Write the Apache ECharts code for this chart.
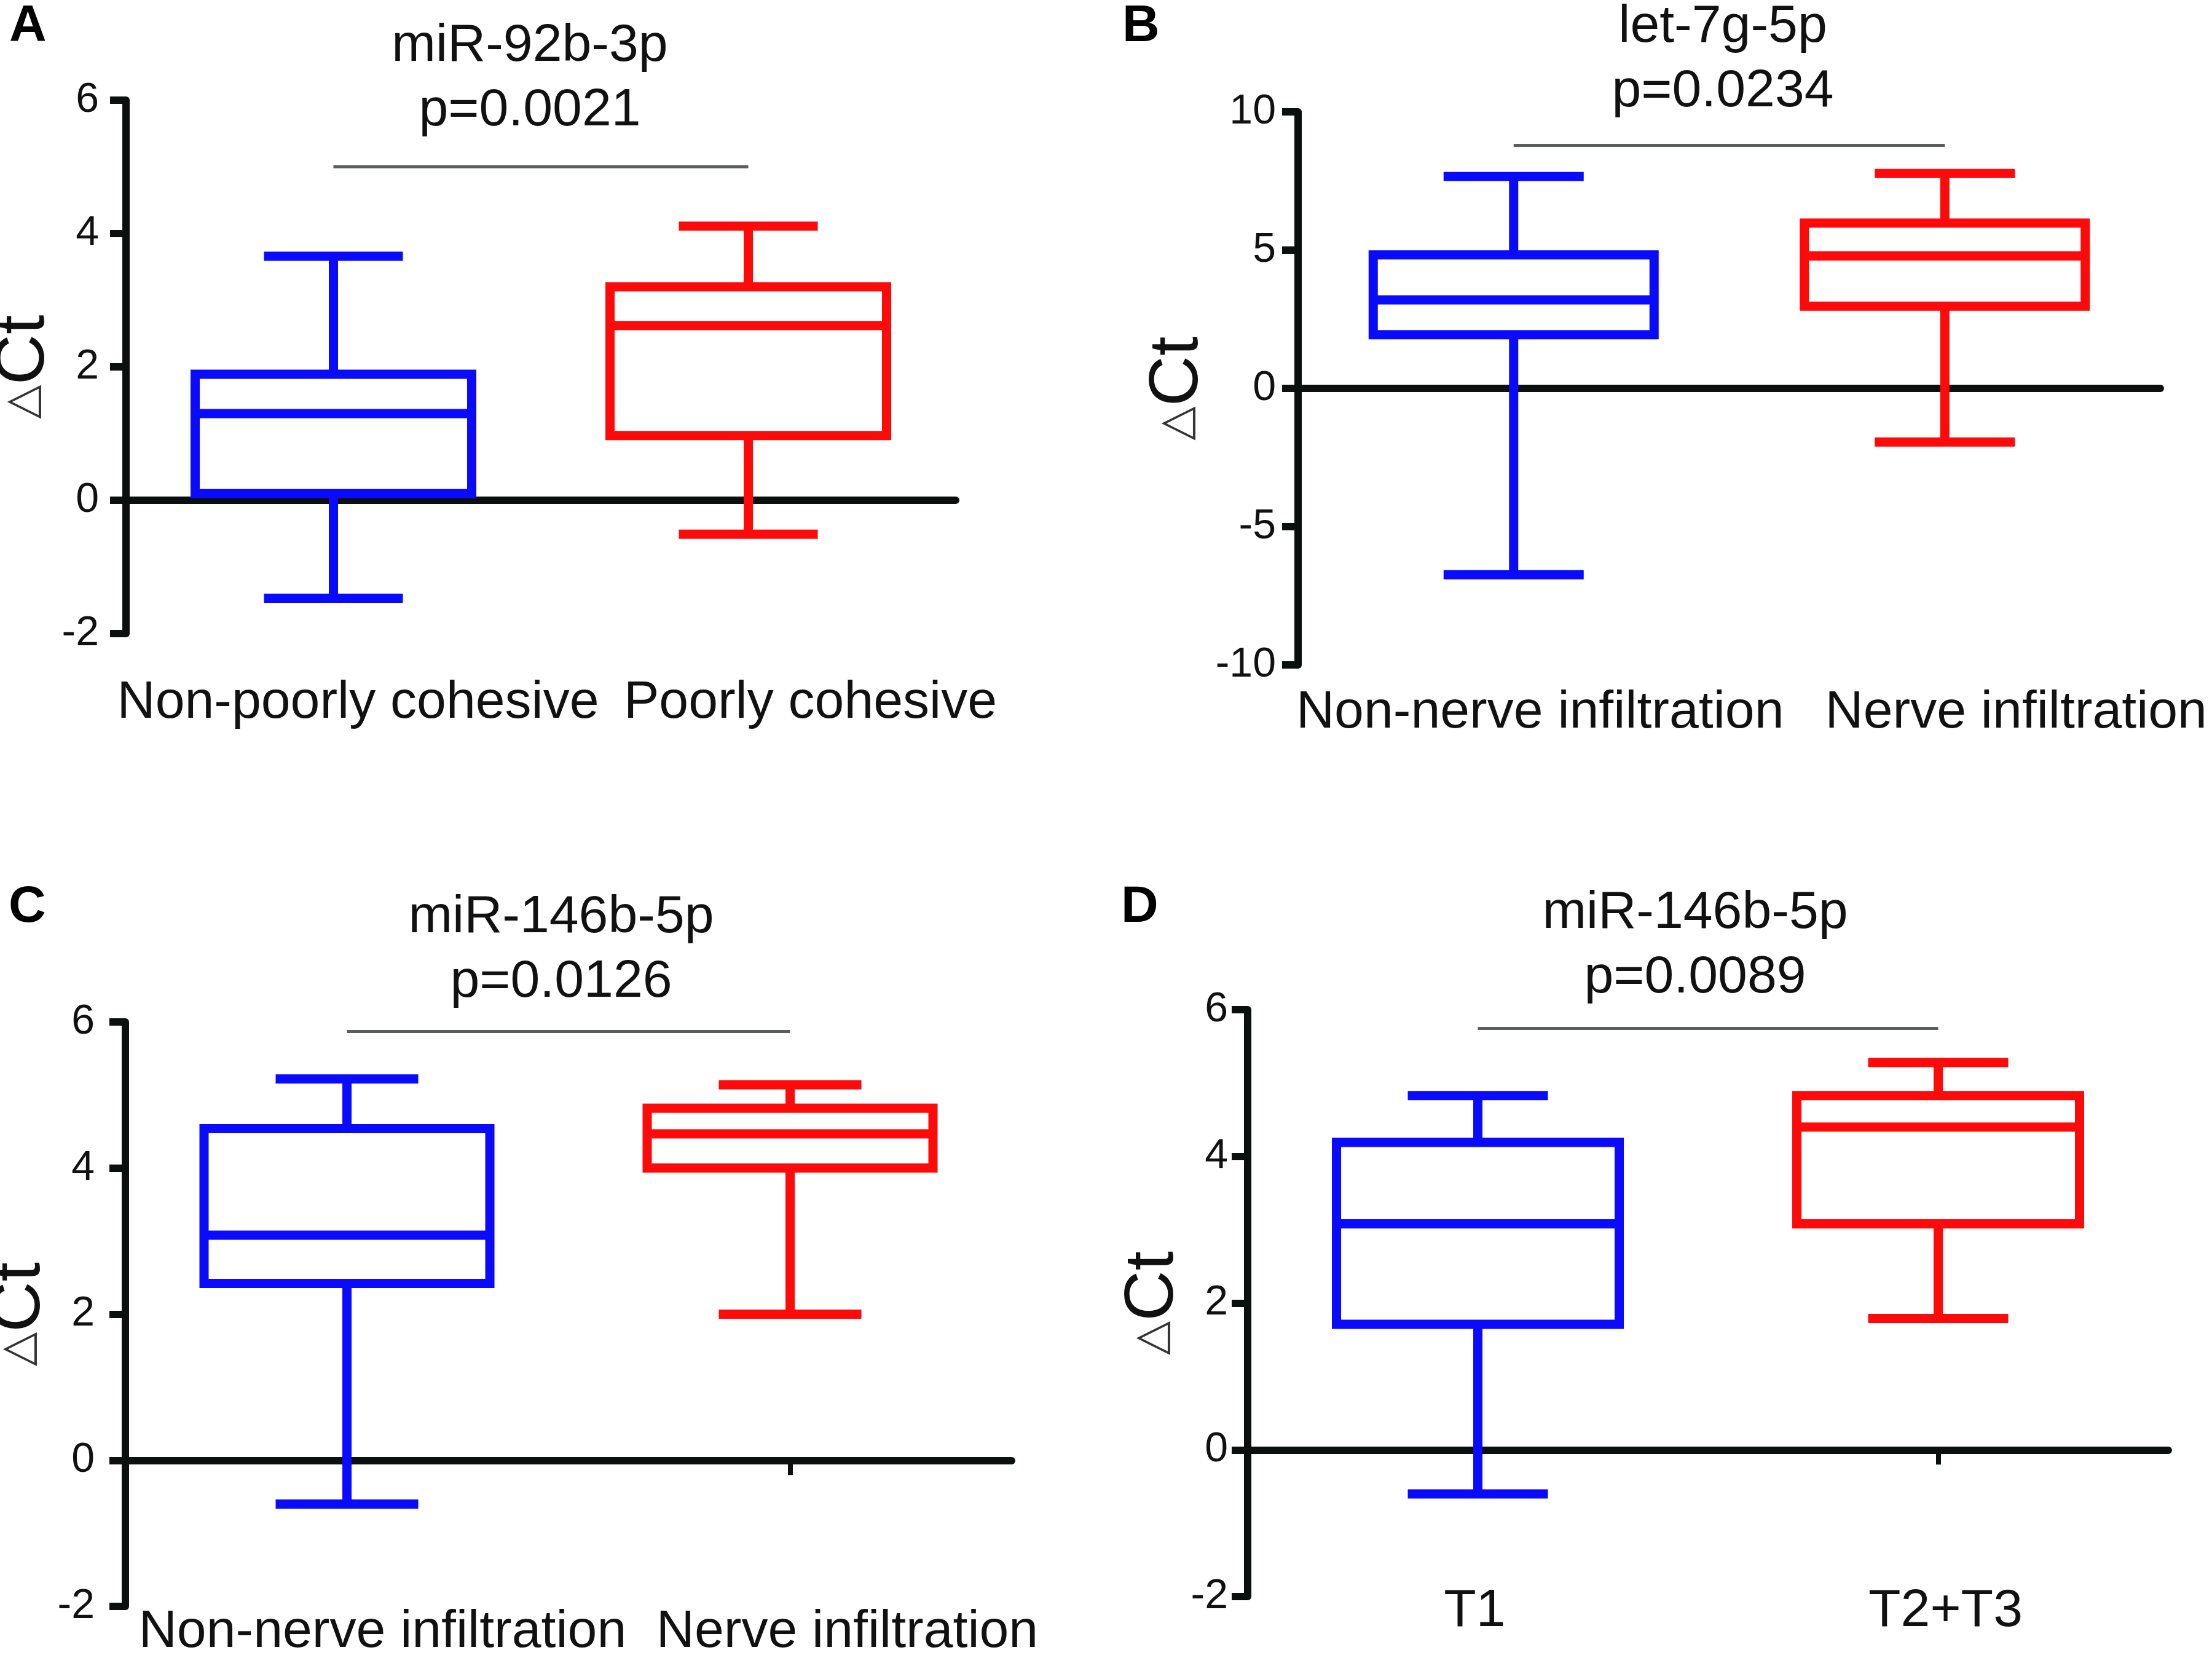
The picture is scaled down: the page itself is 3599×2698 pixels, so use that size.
<!DOCTYPE html>
<html>
<head>
<meta charset="utf-8">
<script src="https://cdn.jsdelivr.net/npm/echarts@6/dist/echarts.min.js"></script>
<style>
html,body{margin:0;padding:0;background:#ffffff;}
#c{width:3599px;height:2698px;}
</style>
</head>
<body>
<div id="c"></div>
<script>
// ---------------- data ----------------
const panelLetters = ['A', 'B', 'C', 'D'];
const geneNames = ['miR-92b-3p', 'let-7g-5p', 'miR-146b-5p', 'miR-146b-5p'];
const pValues = ['p=0.0021', 'p=0.0234', 'p=0.0126', 'p=0.0089'];

const categoriesA = ['Non-poorly cohesive', 'Poorly cohesive'];
const categoriesB = ['Non-nerve infiltration', 'Nerve infiltration'];
const categoriesC = ['Non-nerve infiltration', 'Nerve infiltration'];
const categoriesD = ['T1', 'T2+T3'];

// boxplot values: [lower whisker, Q1, median, Q3, upper whisker]
const boxA = [[-1.47, 0.10, 1.30, 1.89, 3.66], [-0.51, 0.97, 2.62, 3.20, 4.11]];
const boxB = [[-6.74, 1.94, 3.20, 4.83, 7.66], [-1.94, 2.97, 4.79, 5.98, 7.77]];
const boxC = [[-0.60, 2.42, 3.08, 4.54, 5.22], [2.00, 4.00, 4.47, 4.82, 5.14]];
const boxD = [[-0.60, 1.71, 3.08, 4.19, 4.83], [1.79, 3.08, 4.40, 4.83, 5.28]];

// y axis: [min, max, interval]
const yAxisA = [-2, 6, 2];
const yAxisB = [-10, 10, 5];
const yAxisC = [-2, 6, 2];
const yAxisD = [-2, 6, 2];

// height (in data units) of the significance bar
const sigBarY = [5.0, 8.8, 5.87, 5.75];

// ---------------- layout / style ----------------
const FONT = "'Liberation Sans', Arial, Helvetica, sans-serif";
const INK = '#111111';
const AXIS = '#0b100e';
const GROUP_COLORS = ['#0a0aff', '#ff0a0a'];
const LINE_W = 15;

const panels = [
  {cats: categoriesA, box: boxA, y: yAxisA,
   grid: {left: 205, top: 163, width: 1350, height: 868},
   boxW: 450, capW: 226, labMargin: 113, labShift: [40, 101], tickMargin: 44, nameGap: 84,
   title: {x: 862, top: 23}, letter: {x: 15, top: 2}},
  {cats: categoriesB, box: boxB, y: yAxisB,
   grid: {left: 2112, top: 182, width: 1403, height: 900},
   boxW: 457, capW: 228, labMargin: 78, labShift: [43, 116], tickMargin: 36, nameGap: 92,
   title: {x: 2803, top: -8}, letter: {x: 1826, top: 2}},
  {cats: categoriesC, box: boxC, y: yAxisC,
   grid: {left: 204, top: 1663, width: 1442, height: 951},
   boxW: 465, capW: 232, labMargin: 42, labShift: [58, 93], tickMargin: 50, nameGap: 86,
   title: {x: 913, top: 1441}, letter: {x: 14, top: 1435}},
  {cats: categoriesD, box: boxD, y: yAxisD,
   grid: {left: 2030, top: 1643, width: 1498, height: 955},
   boxW: 460, capW: 228, labMargin: 24, labShift: [-5, 12], tickMargin: 32, nameGap: 92,
   title: {x: 2758, top: 1434}, letter: {x: 1824, top: 1435}}
];

const grid = [], xAxis = [], yAxis = [], series = [], title = [];

panels.forEach(function (p, i) {
  grid.push(Object.assign({outerBoundsMode: 'none', containLabel: false}, p.grid));

  const rich = {};
  p.labShift.forEach(function (s, j) {
    rich['l' + j] = {
      fontFamily: FONT, fontSize: 86, color: INK,
      padding: s >= 0 ? [0, 0, 0, 2 * s] : [0, -2 * s, 0, 0]
    };
  });

  // category label axis (bottom of panel)
  xAxis.push({
    type: 'category', gridIndex: i, data: p.cats, position: 'bottom',
    boundaryGap: true,
    axisLine: {show: false, onZero: false},
    axisTick: {show: false},
    splitLine: {show: false},
    axisLabel: {
      interval: 0, margin: p.labMargin, verticalAlign: 'middle',
      formatter: function (v, idx) { return '{l' + idx + '|' + v + '}'; },
      rich: rich
    }
  });
  // zero line axis
  xAxis.push({
    type: 'category', gridIndex: i, data: p.cats, position: 'bottom',
    boundaryGap: true,
    axisLine: {show: true, onZero: true, lineStyle: {color: AXIS, width: 12}},
    axisTick: {show: true, alignWithLabel: true, length: 24, lineStyle: {color: AXIS, width: 8}},
    axisLabel: {show: false},
    splitLine: {show: false}
  });

  yAxis.push({
    type: 'value', gridIndex: i,
    min: p.y[0], max: p.y[1], interval: p.y[2],
    axisLine: {show: true, lineStyle: {color: AXIS, width: 12}},
    axisTick: {show: true, length: 26, lineStyle: {color: AXIS, width: 12}},
    splitLine: {show: false},
    axisLabel: {fontFamily: FONT, fontSize: 68, color: INK, margin: p.tickMargin},
    name: '{t|\u25B3}{c|Ct}',
    nameLocation: 'middle', nameRotate: 90, nameGap: p.nameGap,
    nameTextStyle: {
      rich: {
        t: {fontFamily: "'DejaVu Sans', sans-serif", fontSize: 72, color: '#333333'},
        c: {fontFamily: FONT, fontSize: 114, color: INK}
      }
    }
  });

  // box body + median (whiskers drawn by the custom series below)
  series.push({
    type: 'boxplot', xAxisIndex: 2 * i, yAxisIndex: i,
    boxWidth: [p.boxW, p.boxW],
    silent: true,
    emphasis: {disabled: true},
    itemStyle: {color: 'rgba(255,255,255,0)', borderWidth: LINE_W},
    data: p.box.map(function (v, j) {
      return {value: [v[1], v[1], v[2], v[3], v[3]], itemStyle: {borderColor: GROUP_COLORS[j]}};
    }),
    markLine: {
      silent: true, symbol: ['none', 'none'], animation: false,
      label: {show: false},
      emphasis: {disabled: true},
      lineStyle: {color: '#5a5e5c', width: 5, type: 'solid'},
      data: [[{coord: [0, sigBarY[i]]}, {coord: [1, sigBarY[i]]}]]
    }
  });

  // whiskers with half-width caps
  const capHalf = p.capW / 2;
  series.push({
    type: 'custom', xAxisIndex: 2 * i, yAxisIndex: i,
    silent: true,
    encode: {x: 0, y: [1, 2, 3, 4]},
    data: p.box.map(function (v, j) { return [j, v[0], v[1], v[3], v[4]]; }),
    renderItem: function (params, api) {
      const c = api.value(0);
      const lo = api.coord([c, api.value(1)]);
      const q1 = api.coord([c, api.value(2)]);
      const q3 = api.coord([c, api.value(3)]);
      const hi = api.coord([c, api.value(4)]);
      const st = {stroke: GROUP_COLORS[params.dataIndex], lineWidth: LINE_W, fill: null, lineCap: 'butt'};
      return {
        type: 'group',
        children: [
          {type: 'line', shape: {x1: lo[0], y1: lo[1], x2: q1[0], y2: q1[1]}, style: st},
          {type: 'line', shape: {x1: q3[0], y1: q3[1], x2: hi[0], y2: hi[1]}, style: st},
          {type: 'line', shape: {x1: lo[0] - capHalf, y1: lo[1], x2: lo[0] + capHalf, y2: lo[1]}, style: st},
          {type: 'line', shape: {x1: hi[0] - capHalf, y1: hi[1], x2: hi[0] + capHalf, y2: hi[1]}, style: st}
        ]
      };
    }
  });

  title.push({
    text: geneNames[i] + '\n' + pValues[i],
    left: p.title.x, top: p.title.top, padding: 0,
    textAlign: 'center',
    textStyle: {fontFamily: FONT, fontSize: 86, fontWeight: 'normal', color: INK, lineHeight: 105}
  });
  title.push({
    text: panelLetters[i],
    left: p.letter.x, top: p.letter.top, padding: 0,
    textStyle: {fontFamily: FONT, fontSize: 84, fontWeight: 'bold', color: '#000000'}
  });
});

const chart = echarts.init(document.getElementById('c'), null, {renderer: 'canvas', width: 3599, height: 2698});
chart.setOption({
  animation: false,
  backgroundColor: '#ffffff',
  title: title,
  grid: grid,
  xAxis: xAxis,
  yAxis: yAxis,
  series: series
});
</script>
</body>
</html>
